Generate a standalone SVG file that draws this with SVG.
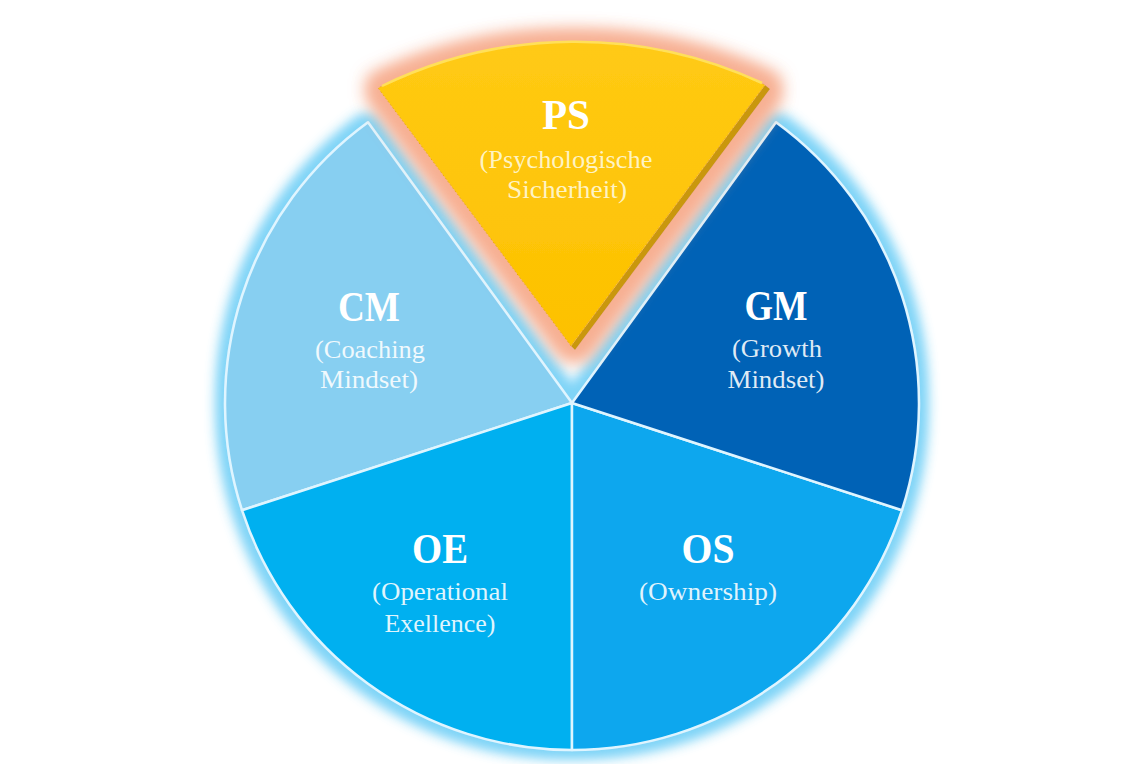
<svg xmlns="http://www.w3.org/2000/svg" width="1146" height="764" viewBox="0 0 1146 764">
  <defs>
    <filter id="blueGlow" x="-15%" y="-15%" width="130%" height="130%">
      <feMorphology in="SourceAlpha" operator="dilate" radius="5" result="d"/>
      <feGaussianBlur in="d" stdDeviation="7" result="b"/>
      <feFlood flood-color="#7fd4f7"/>
      <feComposite in2="b" operator="in" result="g"/>
      <feMerge><feMergeNode in="g"/><feMergeNode in="g"/><feMergeNode in="SourceGraphic"/></feMerge>
    </filter>
    <filter id="psGlow" x="-20%" y="-20%" width="140%" height="140%">
      <feMorphology in="SourceAlpha" operator="dilate" radius="9" result="d"/>
      <feGaussianBlur in="d" stdDeviation="9" result="b"/>
      <feFlood flood-color="#f7b093"/>
      <feComposite in2="b" operator="in" result="g"/>
      <feMerge><feMergeNode in="g"/><feMergeNode in="g"/><feMergeNode in="SourceGraphic"/></feMerge>
    </filter>
    <linearGradient id="psFill" x1="0" y1="0" x2="0" y2="1">
      <stop offset="0" stop-color="#ffca14"/>
      <stop offset="1" stop-color="#fdc100"/>
    </linearGradient>
  </defs>
  <style>
    .slice { stroke: #dff5ff; stroke-width: 2.5; stroke-linejoin: round; }
    .head { font-family: "Liberation Serif", "Times New Roman", serif; font-weight: bold; font-size: 43px; fill: #ffffff; text-anchor: middle; }
    .sub { font-family: "Liberation Serif", "Times New Roman", serif; font-size: 26px; fill: #ffffff; fill-opacity: 0.88; text-anchor: middle; }
    .subps { fill: #fff6d0; fill-opacity: 0.95; }
  </style>
  <rect width="1146" height="764" fill="#ffffff"/>

  <g id="pie" filter="url(#blueGlow)">
    <g id="CM">
      <path class="slice" d="M572,403 L368,122.3 A347,347 0 0 0 242,510.2 Z" fill="#87cff1"/>
    </g>
    <g id="OE">
      <path class="slice" d="M572,403 L242,510.2 A347,347 0 0 0 572,750 Z" fill="#00b0f0"/>
    </g>
    <g id="OS">
      <path class="slice" d="M572,403 L572,750 A347,347 0 0 0 902,510.2 Z" fill="#07a7ee"/>
    </g>
    <g id="GM">
      <path class="slice" d="M572,403 L902,510.2 A347,347 0 0 0 776,122.3 Z" fill="#0562b6"/>
    </g>
  </g>

  <g id="PS">
    <g filter="url(#psGlow)">
      <path d="M575,350 L770,89 L765,85 L571,346 Z" fill="#c9970a"/>
      <path d="M571,346 L378,88 A443,443 0 0 1 765,85 Z" fill="url(#psFill)" stroke="#e8ab00" stroke-width="1" stroke-dasharray="2 2"/>
    </g>
    <path d="M382,86 A443,443 0 0 1 762,83" fill="none" stroke="#ffe05a" stroke-width="2.5"/>
    <text class="head" x="566" y="129" textLength="48" lengthAdjust="spacingAndGlyphs">PS</text>
    <text class="sub subps" x="566" y="168" textLength="173" lengthAdjust="spacingAndGlyphs">(Psychologische</text>
    <text class="sub subps" x="567" y="198" textLength="120" lengthAdjust="spacingAndGlyphs">Sicherheit)</text>
  </g>

  <g id="labels">
    <text class="head" x="369" y="321" textLength="62" lengthAdjust="spacingAndGlyphs">CM</text>
    <text class="sub" x="370" y="358" textLength="110" lengthAdjust="spacingAndGlyphs">(Coaching</text>
    <text class="sub" x="369" y="388" textLength="98" lengthAdjust="spacingAndGlyphs">Mindset)</text>

    <text class="head" x="776" y="320" textLength="63" lengthAdjust="spacingAndGlyphs">GM</text>
    <text class="sub" x="777" y="357" textLength="90" lengthAdjust="spacingAndGlyphs">(Growth</text>
    <text class="sub" x="776" y="388" textLength="97" lengthAdjust="spacingAndGlyphs">Mindset)</text>

    <text class="head" x="440" y="563" textLength="56" lengthAdjust="spacingAndGlyphs">OE</text>
    <text class="sub" x="440" y="600" textLength="136" lengthAdjust="spacingAndGlyphs">(Operational</text>
    <text class="sub" x="440" y="632" textLength="111" lengthAdjust="spacingAndGlyphs">Exellence)</text>

    <text class="head" x="708" y="563" textLength="53" lengthAdjust="spacingAndGlyphs">OS</text>
    <text class="sub" x="708" y="600" textLength="138" lengthAdjust="spacingAndGlyphs">(Ownership)</text>
  </g>
</svg>
